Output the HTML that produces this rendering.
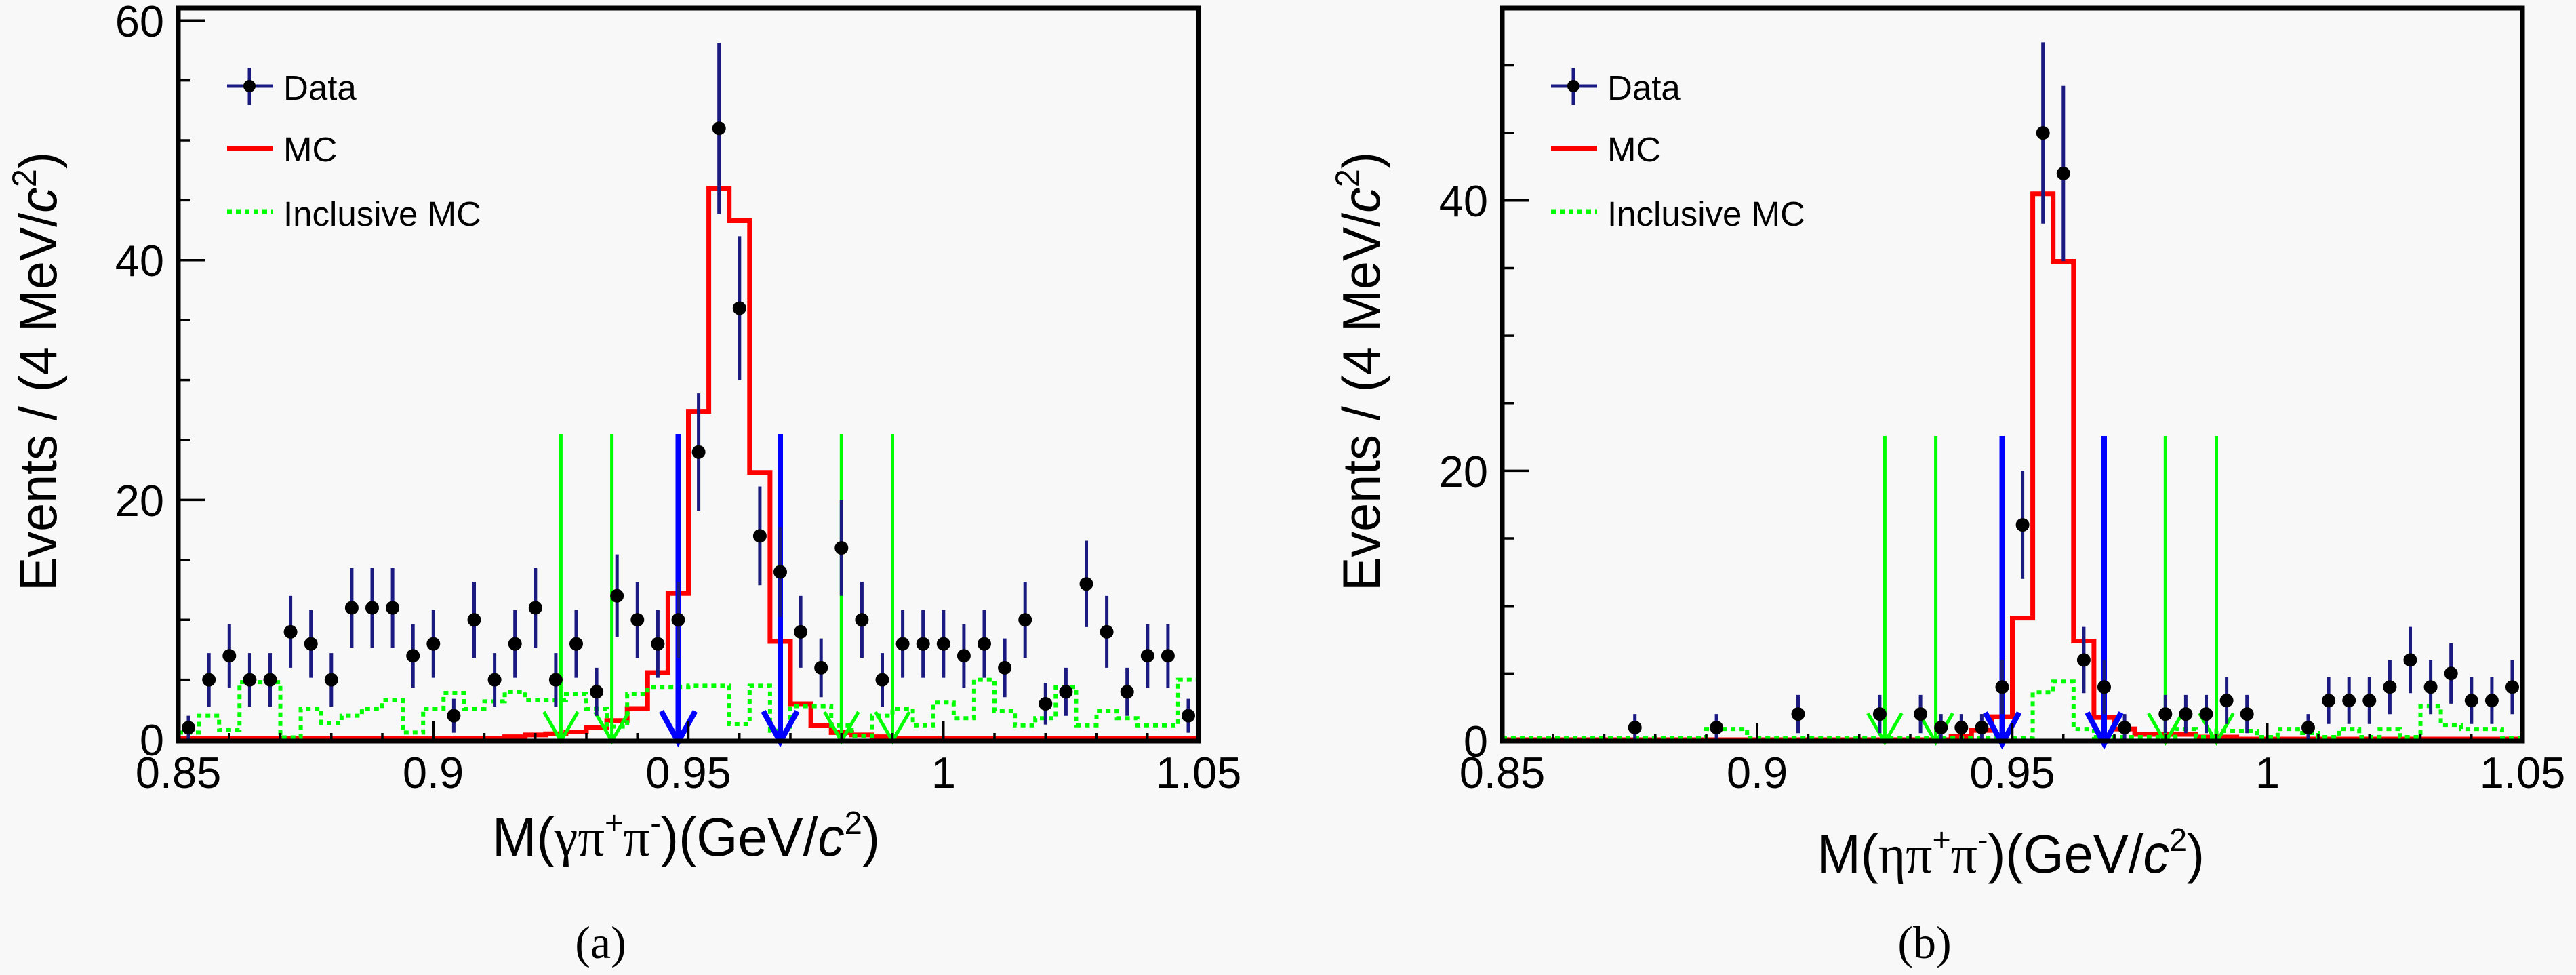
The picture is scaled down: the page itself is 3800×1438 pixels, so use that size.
<!DOCTYPE html>
<html><head><meta charset="utf-8"><style>html,body{margin:0;padding:0;background:#f8f8f8;}svg{display:block;}</style></head>
<body>
<svg xmlns="http://www.w3.org/2000/svg" width="3800" height="1438" viewBox="0 0 3800 1438" font-family="'Liberation Sans', Arial, sans-serif">
<rect width="3800" height="1438" fill="#f8f8f8"/>

<!-- ================= LEFT PANEL ================= -->
<g transform="translate(263,1091)">
  <path fill="none" stroke="#ff0000" stroke-width="7" d="M0,-1.8 H481.6 V-4.4 H511.7 V-7.1 H541.8 V-8.8 H571.9 V-11.5 H602 V-17.7 H632.1 V-28.3 H662.2 V-46 H692.3 V-99 H722.4 V-215.7 H752.5 V-484.4 H782.6 V-813.3 H812.7 V-765.5 H842.8 V-394.3 H872.9 V-145 H903 V-53 H933.1 V-21.2 H963.2 V-10.6 H993.3 V-7.1 H1023.4 V-4.4 H1053.5 V-2 H1505"/>
  <path fill="none" stroke="#00ff00" stroke-width="6" stroke-dasharray="7 6" d="M0,-10.6 H30.1 V-35.4 H60.2 V-14.1 H90.3 V-84.9 H150.5 V-3.5 H180.6 V-46 H210.7 V-24.8 H240.8 V-35.4 H270.9 V-46 H301 V-58.3 H331.1 V-10.6 H361.2 V-46 H391.3 V-69 H421.4 V-46 H451.5 V-56.6 H481.6 V-70.7 H511.7 V-58.3 H571.9 V-67.2 H602 V-46 H632.1 V-19.4 H662.2 V-67.2 H692.3 V-77.8 H752.5 V-79.6 H812.7 V-23 H842.8 V-79.6 H872.9 V-13.3 H903 V-49.5 H963.2 V-21.2 H993.3 V-5.3 H1023.4 V-35.4 H1053.5 V-46 H1083.6 V-21.2 H1113.7 V-54.8 H1143.8 V-31.8 H1173.9 V-88.4 H1204 V-42.4 H1234.1 V-21.2 H1264.2 V-31.8 H1294.3 V-77.8 H1324.4 V-21.2 H1354.5 V-42.4 H1384.6 V-31.8 H1414.7 V-21.2 H1474.9 V-88.4 H1505"/>
  <!-- arrows -->
  <path fill="none" stroke="#00ff00" stroke-width="5" d="M564.4,-451V2 M539.4,-41L564.4,2L589.4,-41 M639.6,-451V2 M614.6,-41L639.6,2L664.6,-41 M978.3,-451V2 M953.3,-41L978.3,2L1003.3,-41 M1053.5,-451V2 M1028.5,-41L1053.5,2L1078.5,-41"/>
  <path fill="none" stroke="#0000ff" stroke-width="8" d="M737.5,-451V3 M712.5,-42L737.5,3L762.5,-42 M888,-451V3 M863,-42L888,3L913,-42"/>
  <!-- data error bars -->
  <path fill="none" stroke="#1a1a80" stroke-width="5" d="M15,-35.4V0 M45.2,-127.9V-48.9 M75.3,-170.6V-77 M105.4,-127.9V-48.9 M135.5,-127.9V-48.9 M165.6,-212.1V-106.1 M195.7,-191.4V-91.4 M225.8,-127.9V-48.9 M255.9,-253.1V-135.9 M286,-253.1V-135.9 M316.1,-253.1V-135.9 M346.2,-170.6V-77 M376.3,-191.4V-91.4 M406.4,-60.4V-10.4 M436.5,-232.7V-120.9 M466.6,-127.9V-48.9 M496.7,-191.4V-91.4 M526.8,-253.1V-135.9 M556.9,-127.9V-48.9 M587,-191.4V-91.4 M617.1,-106.1V-35.3 M647.2,-273.4V-151 M677.3,-232.7V-120.9 M707.4,-191.4V-91.4 M737.5,-232.7V-120.9 M767.6,-510.9V-337.7 M797.7,-1028V-775.4 M827.8,-742.6V-530.4 M857.9,-373.5V-227.7 M888,-313.7V-181.3 M918.1,-212.1V-106.1 M948.2,-149.4V-62.8 M978.3,-353.6V-212.2 M1008.4,-232.7V-120.9 M1038.5,-127.9V-48.9 M1068.6,-191.4V-91.4 M1098.7,-191.4V-91.4 M1128.8,-191.4V-91.4 M1158.9,-170.6V-77 M1189,-191.4V-91.4 M1219.1,-149.4V-62.8 M1249.2,-232.7V-120.9 M1279.3,-83.6V-22.4 M1309.4,-106.1V-35.3 M1339.5,-293.5V-166.1 M1369.6,-212.1V-106.1 M1399.7,-106.1V-35.3 M1429.8,-170.6V-77 M1459.9,-170.6V-77 M1490,-60.4V-10.4"/>
  <g fill="#000">
    <circle cx="15" cy="-17.7" r="10"/><circle cx="45.2" cy="-88.4" r="10"/><circle cx="75.3" cy="-123.8" r="10"/><circle cx="105.4" cy="-88.4" r="10"/><circle cx="135.5" cy="-88.4" r="10"/>
    <circle cx="165.6" cy="-159.1" r="10"/><circle cx="195.7" cy="-141.4" r="10"/><circle cx="225.8" cy="-88.4" r="10"/><circle cx="255.9" cy="-194.5" r="10"/><circle cx="286" cy="-194.5" r="10"/>
    <circle cx="316.1" cy="-194.5" r="10"/><circle cx="346.2" cy="-123.8" r="10"/><circle cx="376.3" cy="-141.4" r="10"/><circle cx="406.4" cy="-35.4" r="10"/><circle cx="436.5" cy="-176.8" r="10"/>
    <circle cx="466.6" cy="-88.4" r="10"/><circle cx="496.7" cy="-141.4" r="10"/><circle cx="526.8" cy="-194.5" r="10"/><circle cx="556.9" cy="-88.4" r="10"/><circle cx="587" cy="-141.4" r="10"/>
    <circle cx="617.1" cy="-70.7" r="10"/><circle cx="647.2" cy="-212.2" r="10"/><circle cx="677.3" cy="-176.8" r="10"/><circle cx="707.4" cy="-141.4" r="10"/><circle cx="737.5" cy="-176.8" r="10"/>
    <circle cx="767.6" cy="-424.3" r="10"/><circle cx="797.7" cy="-901.7" r="10"/><circle cx="827.8" cy="-636.5" r="10"/><circle cx="857.9" cy="-300.6" r="10"/><circle cx="888" cy="-247.5" r="10"/>
    <circle cx="918.1" cy="-159.1" r="10"/><circle cx="948.2" cy="-106.1" r="10"/><circle cx="978.3" cy="-282.9" r="10"/><circle cx="1008.4" cy="-176.8" r="10"/><circle cx="1038.5" cy="-88.4" r="10"/>
    <circle cx="1068.6" cy="-141.4" r="10"/><circle cx="1098.7" cy="-141.4" r="10"/><circle cx="1128.8" cy="-141.4" r="10"/><circle cx="1158.9" cy="-123.8" r="10"/><circle cx="1189" cy="-141.4" r="10"/>
    <circle cx="1219.1" cy="-106.1" r="10"/><circle cx="1249.2" cy="-176.8" r="10"/><circle cx="1279.3" cy="-53" r="10"/><circle cx="1309.4" cy="-70.7" r="10"/><circle cx="1339.5" cy="-229.8" r="10"/>
    <circle cx="1369.6" cy="-159.1" r="10"/><circle cx="1399.7" cy="-70.7" r="10"/><circle cx="1429.8" cy="-123.8" r="10"/><circle cx="1459.9" cy="-123.8" r="10"/><circle cx="1490" cy="-35.4" r="10"/>
  </g>
  <!-- frame and ticks -->
  <rect x="0" y="-1079" width="1505" height="1081" fill="none" stroke="#000" stroke-width="7"/>
  <path fill="none" stroke="#000" stroke-width="3.5" d="M0,-353.6H40 M0,-707.2H40 M0,-1060.8H40 M0,-88.4H18 M0,-176.8H18 M0,-265.2H18 M0,-442H18 M0,-530.4H18 M0,-618.8H18 M0,-795.6H18 M0,-884H18 M0,-972.4H18 M376.25,0V-27 M752.5,0V-27 M1128.75,0V-27 M75.25,0V-10 M150.5,0V-10 M225.75,0V-10 M301,0V-10 M451.5,0V-10 M526.75,0V-10 M602,0V-10 M677.25,0V-10 M827.75,0V-10 M903,0V-10 M978.25,0V-10 M1053.5,0V-10 M1204,0V-10 M1279.25,0V-10 M1354.5,0V-10 M1429.75,0V-10"/>
</g>

<!-- left labels -->
<g font-size="65" fill="#000">
  <text x="242" y="1114" text-anchor="end">0</text>
  <text x="242" y="761" text-anchor="end">20</text>
  <text x="242" y="407" text-anchor="end">40</text>
  <text x="242" y="54" text-anchor="end">60</text>
  <text x="263" y="1162" text-anchor="middle">0.85</text>
  <text x="639" y="1162" text-anchor="middle">0.9</text>
  <text x="1015.5" y="1162" text-anchor="middle">0.95</text>
  <text x="1392" y="1162" text-anchor="middle">1</text>
  <text x="1768" y="1162" text-anchor="middle">1.05</text>
</g>
<text transform="translate(83,548) rotate(-90)" font-size="78" text-anchor="middle" textLength="648" lengthAdjust="spacingAndGlyphs">Events / (4 MeV/<tspan font-style="italic">c</tspan><tspan font-size="50" dy="-30">2</tspan><tspan dy="30">)</tspan></text>
<text x="1012" y="1262" font-size="80" text-anchor="middle" textLength="572" lengthAdjust="spacingAndGlyphs">M(<tspan font-family="'Liberation Serif', serif">γπ</tspan><tspan font-size="48" dy="-32">+</tspan><tspan font-family="'Liberation Serif', serif" dy="32">π</tspan><tspan font-size="48" dy="-32">-</tspan><tspan dy="32">)(GeV/</tspan><tspan font-style="italic">c</tspan><tspan font-size="48" dy="-32">2</tspan><tspan dy="32">)</tspan></text>
<text x="886" y="1413" font-family="'Liberation Serif', serif" font-size="68" text-anchor="middle">(a)</text>

<!-- left legend -->
<path d="M335,127H403 M368,100V155" stroke="#1a1a80" stroke-width="5" fill="none"/>
<circle cx="368" cy="127" r="9" fill="#000"/>
<path d="M335,219H403" stroke="#ff0000" stroke-width="7" fill="none"/>
<path d="M335,312H403" stroke="#00ff00" stroke-width="7" stroke-dasharray="7 6" fill="none"/>
<g font-size="51" fill="#000">
  <text x="418" y="147">Data</text>
  <text x="418" y="238">MC</text>
  <text x="418" y="333">Inclusive MC</text>
</g>

<!-- ================= RIGHT PANEL ================= -->
<g transform="translate(2216,1093)">
  <path fill="none" stroke="#ff0000" stroke-width="7" d="M0,-2 H662.2 V-6.6 H692.3 V-15.9 H722.4 V-35.9 H752.5 V-181.4 H782.6 V-807.2 H812.7 V-707.5 H842.8 V-147.5 H872.9 V-34.9 H903 V-17.9 H933.1 V-10 H1023.4 V-6 H1083.6 V-3 H1505"/>
  <path fill="none" stroke="#00ff00" stroke-width="6" stroke-dasharray="7 6" d="M0,-4 H301 V-17.9 H361.2 V-4 H782.6 V-71.7 H812.7 V-87.7 H842.8 V-17.9 H872.9 V-6 H993.3 V-17.9 H1023.4 V-6 H1053.5 V-15 H1113.7 V-6 H1143.8 V-17.9 H1173.9 V-12 H1204 V-6 H1234.1 V-17.9 H1264.2 V-6 H1294.3 V-17.9 H1324.4 V-6 H1354.5 V-51.8 H1384.6 V-23.9 H1414.7 V-17.9 H1474.9 V-4 H1505"/>
  <path fill="none" stroke="#00ff00" stroke-width="5" d="M564.4,-450V2 M539.4,-41L564.4,2L589.4,-41 M639.6,-450V2 M614.6,-41L639.6,2L664.6,-41 M978.3,-450V2 M953.3,-41L978.3,2L1003.3,-41 M1053.5,-450V2 M1028.5,-41L1053.5,2L1078.5,-41"/>
  <path fill="none" stroke="#0000ff" stroke-width="8" d="M737.5,-450V4 M712.5,-42L737.5,4L762.5,-42 M888,-450V4 M863,-42L888,4L913,-42"/>
  <path fill="none" stroke="#1a1a80" stroke-width="5" d="M195.7,-39.9V0 M316.1,-39.9V0 M436.5,-68.1V-11.7 M556.9,-68.1V-11.7 M617.1,-68.1V-11.7 M647.2,-39.9V0 M677.3,-39.9V0 M707.4,-39.9V0 M737.5,-119.6V-39.8 M767.6,-398.6V-239.2 M797.7,-1030.6V-763.2 M827.8,-966.3V-707.9 M857.9,-168.4V-70.8 M888,-119.6V-39.8 M918.1,-39.9V0 M978.3,-68.1V-11.7 M1008.4,-68.1V-11.7 M1038.5,-68.1V-11.7 M1068.6,-94.3V-25.3 M1098.7,-68.1V-11.7 M1189,-39.9V0 M1219.1,-94.3V-25.3 M1249.2,-94.3V-25.3 M1279.3,-94.3V-25.3 M1309.4,-119.6V-39.8 M1339.5,-168.4V-70.8 M1369.6,-119.6V-39.8 M1399.7,-144.3V-55.1 M1429.8,-94.3V-25.3 M1459.9,-94.3V-25.3 M1490,-119.6V-39.8"/>
  <g fill="#000">
    <circle cx="195.7" cy="-19.9" r="10"/><circle cx="316.1" cy="-19.9" r="10"/><circle cx="436.5" cy="-39.9" r="10"/><circle cx="556.9" cy="-39.9" r="10"/><circle cx="617.1" cy="-39.9" r="10"/>
    <circle cx="647.2" cy="-19.9" r="10"/><circle cx="677.3" cy="-19.9" r="10"/><circle cx="707.4" cy="-19.9" r="10"/><circle cx="737.5" cy="-79.7" r="10"/><circle cx="767.6" cy="-318.9" r="10"/>
    <circle cx="797.7" cy="-896.9" r="10"/><circle cx="827.8" cy="-837.1" r="10"/><circle cx="857.9" cy="-119.6" r="10"/><circle cx="888" cy="-79.7" r="10"/><circle cx="918.1" cy="-19.9" r="10"/>
    <circle cx="978.3" cy="-39.9" r="10"/><circle cx="1008.4" cy="-39.9" r="10"/><circle cx="1038.5" cy="-39.9" r="10"/><circle cx="1068.6" cy="-59.8" r="10"/><circle cx="1098.7" cy="-39.9" r="10"/>
    <circle cx="1189" cy="-19.9" r="10"/><circle cx="1219.1" cy="-59.8" r="10"/><circle cx="1249.2" cy="-59.8" r="10"/><circle cx="1279.3" cy="-59.8" r="10"/><circle cx="1309.4" cy="-79.7" r="10"/>
    <circle cx="1339.5" cy="-119.6" r="10"/><circle cx="1369.6" cy="-79.7" r="10"/><circle cx="1399.7" cy="-99.7" r="10"/><circle cx="1429.8" cy="-59.8" r="10"/><circle cx="1459.9" cy="-59.8" r="10"/>
    <circle cx="1490" cy="-79.7" r="10"/>
  </g>
  <rect x="0" y="-1081" width="1505" height="1081" fill="none" stroke="#000" stroke-width="7"/>
  <path fill="none" stroke="#000" stroke-width="3.5" d="M0,-398.6H40 M0,-797.2H40 M0,-99.65H18 M0,-199.3H18 M0,-298.95H18 M0,-498.25H18 M0,-597.9H18 M0,-697.55H18 M0,-896.85H18 M0,-996.5H18 M376.25,0V-27 M752.5,0V-27 M1128.75,0V-27 M75.25,0V-10 M150.5,0V-10 M225.75,0V-10 M301,0V-10 M451.5,0V-10 M526.75,0V-10 M602,0V-10 M677.25,0V-10 M827.75,0V-10 M903,0V-10 M978.25,0V-10 M1053.5,0V-10 M1204,0V-10 M1279.25,0V-10 M1354.5,0V-10 M1429.75,0V-10"/>
</g>

<!-- right labels -->
<g font-size="65" fill="#000">
  <text x="2195" y="1116" text-anchor="end">0</text>
  <text x="2195" y="718" text-anchor="end">20</text>
  <text x="2195" y="319" text-anchor="end">40</text>
  <text x="2216" y="1162" text-anchor="middle">0.85</text>
  <text x="2592" y="1162" text-anchor="middle">0.9</text>
  <text x="2968.5" y="1162" text-anchor="middle">0.95</text>
  <text x="3345" y="1162" text-anchor="middle">1</text>
  <text x="3721" y="1162" text-anchor="middle">1.05</text>
</g>
<text transform="translate(2035,548) rotate(-90)" font-size="78" text-anchor="middle" textLength="648" lengthAdjust="spacingAndGlyphs">Events / (4 MeV/<tspan font-style="italic">c</tspan><tspan font-size="50" dy="-30">2</tspan><tspan dy="30">)</tspan></text>
<text x="2966" y="1287" font-size="80" text-anchor="middle" textLength="572" lengthAdjust="spacingAndGlyphs">M(<tspan font-family="'Liberation Serif', serif">ηπ</tspan><tspan font-size="48" dy="-32">+</tspan><tspan font-family="'Liberation Serif', serif" dy="32">π</tspan><tspan font-size="48" dy="-32">-</tspan><tspan dy="32">)(GeV/</tspan><tspan font-style="italic">c</tspan><tspan font-size="48" dy="-32">2</tspan><tspan dy="32">)</tspan></text>
<text x="2839" y="1413" font-family="'Liberation Serif', serif" font-size="68" text-anchor="middle">(b)</text>

<!-- right legend -->
<path d="M2288,127H2356 M2321,100V155" stroke="#1a1a80" stroke-width="5" fill="none"/>
<circle cx="2321" cy="127" r="9" fill="#000"/>
<path d="M2288,219H2356" stroke="#ff0000" stroke-width="7" fill="none"/>
<path d="M2288,312H2356" stroke="#00ff00" stroke-width="7" stroke-dasharray="7 6" fill="none"/>
<g font-size="51" fill="#000">
  <text x="2371" y="147">Data</text>
  <text x="2371" y="238">MC</text>
  <text x="2371" y="333">Inclusive MC</text>
</g>
</svg>
</body></html>
